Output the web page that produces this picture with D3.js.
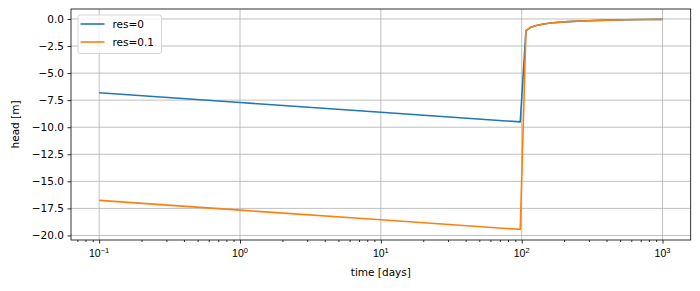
<!doctype html>
<html>
<head>
<meta charset="utf-8">
<script src="https://cdn.jsdelivr.net/npm/d3@7"></script>
<style>
  html, body { margin: 0; padding: 0; background: #fff; }
  svg { display: block; font-family: "DejaVu Sans", sans-serif; }
</style>
</head>
<body>
<svg id="chart" width="700" height="291"></svg>
<script>
// time in days, head in metres
const time = [0.1, 1, 10, 97.7, 107.2, 115, 125, 140, 160, 190, 230, 300, 400, 550, 750, 1000];
const headRes0 = [-6.82, -7.72, -8.62, -9.51, -1.08, -0.80, -0.63, -0.49, -0.38, -0.29, -0.22, -0.16, -0.11, -0.078, -0.056, -0.041];
const headRes01 = [-16.76, -17.66, -18.55, -19.44, -1.08, -0.80, -0.63, -0.49, -0.38, -0.29, -0.22, -0.16, -0.11, -0.078, -0.056, -0.041];
const seriesNames = ["res=0", "res=0.1"];
const colors = ["#1f77b4", "#ff7f0e"];
const xMajor = [0.1, 1, 10, 100, 1000];
const xExp = ["\u22121", "0", "1", "2", "3"];
const yTicks = [0, -2.5, -5, -7.5, -10, -12.5, -15, -17.5, -20];

const svg = d3.select("#chart");
const m = {left: 71, right: 9.3, top: 9, bottom: 51};
const W = 700, H = 291;
const fs = "10.5px";

const x = d3.scaleLog().domain([Math.pow(10, -1.2), Math.pow(10, 3.2)]).range([m.left, W - m.right]);
const y = d3.scaleLinear().domain([-20.42, 0.92]).range([H - m.bottom, m.top]);

// grid
const grid = svg.append("g").attr("stroke", "#b0b0b0").attr("stroke-width", 0.8);
grid.selectAll("line.gx").data(xMajor).join("line")
    .attr("x1", d => x(d)).attr("x2", d => x(d))
    .attr("y1", m.top).attr("y2", H - m.bottom);
grid.selectAll("line.gy").data(yTicks).join("line")
    .attr("x1", m.left).attr("x2", W - m.right)
    .attr("y1", d => y(d)).attr("y2", d => y(d));

// lines
const line = d3.line().x((d, i) => x(time[i])).y(d => y(d));
[headRes0, headRes01].forEach((s, k) => {
  svg.append("path").datum(s)
      .attr("fill", "none").attr("stroke", colors[k])
      .attr("stroke-width", 1.6).attr("stroke-linejoin", "round")
      .attr("d", line);
});

// frame
svg.append("rect")
    .attr("x", m.left).attr("y", m.top)
    .attr("width", W - m.right - m.left).attr("height", H - m.bottom - m.top)
    .attr("fill", "none").attr("stroke", "#000").attr("stroke-width", 0.8);

// x axis
const minor = [];
for (let e = -2; e <= 3; e++) for (let k = 2; k <= 9; k++) {
  const v = k * Math.pow(10, e);
  if (v > x.domain()[0] && v < x.domain()[1]) minor.push(v);
}
const gx = svg.append("g").attr("transform", `translate(0,${H - m.bottom})`);
gx.call(d3.axisBottom(x).tickValues(minor).tickSize(2).tickFormat(""));
gx.append("g").call(d3.axisBottom(x).tickValues(xMajor).tickSize(3.6).tickPadding(5).tickFormat(""));
gx.select(".domain").remove();
gx.selectAll(".domain").remove();
gx.selectAll("line").attr("stroke", "#000").attr("stroke-width", 0.8);

const xl = gx.selectAll("text.xl").data(xMajor).join("text")
    .attr("x", d => x(d)).attr("y", 16.5)
    .attr("text-anchor", "middle").attr("font-size", fs).attr("fill", "#000");
xl.append("tspan").text("10");
xl.append("tspan").attr("dy", -4).attr("font-size", "7.5px").text((d, i) => xExp[i]);

// y axis
const gy = svg.append("g").attr("transform", `translate(${m.left},0)`);
gy.call(d3.axisLeft(y).tickValues(yTicks).tickSize(3.6).tickPadding(3.5)
    .tickFormat(d => d3.format(".1f")(d).replace("-", "\u2212")));
gy.select(".domain").remove();
gy.selectAll("line").attr("stroke", "#000").attr("stroke-width", 0.8);
gy.selectAll("text").attr("font-size", fs).attr("font-family", "DejaVu Sans").attr("fill", "#000");

// axis labels
svg.append("text").attr("x", (m.left + W - m.right) / 2).attr("y", 276)
    .attr("text-anchor", "middle").attr("font-size", fs).text("time [days]");
svg.append("text")
    .attr("transform", `translate(18.5,${(m.top + H - m.bottom) / 2}) rotate(-90)`)
    .attr("text-anchor", "middle").attr("font-size", fs).text("head [m]");

// legend
const lg = svg.append("g").attr("transform", "translate(78,15)");
lg.append("rect").attr("width", 83.5).attr("height", 38.5).attr("rx", 2.5)
    .attr("fill", "#fff").attr("fill-opacity", 0.8)
    .attr("stroke", "#cccccc").attr("stroke-width", 0.8);
seriesNames.forEach((name, i) => {
  const yy = 9 + i * 18;
  lg.append("line").attr("x1", 2.5).attr("x2", 26.5).attr("y1", yy).attr("y2", yy)
      .attr("stroke", colors[i]).attr("stroke-width", 1.6);
  lg.append("text").attr("x", 34.5).attr("y", yy + 3.8)
      .attr("font-size", fs).text(name);
});
</script>
</body>
</html>
